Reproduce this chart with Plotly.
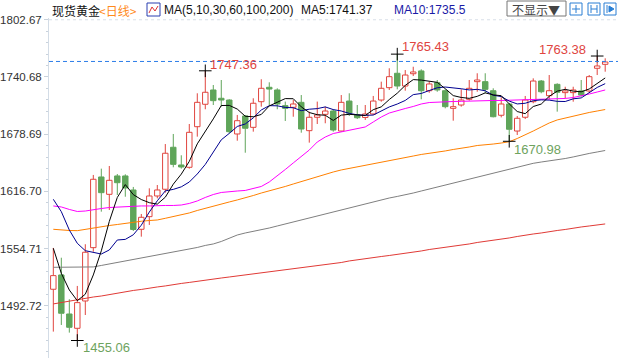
import plotly.graph_objects as go
import pandas as pd

# ---------------- data ----------------
opens = [1510.6, 1526.1, 1483.8, 1468.3, 1497.9, 1555.7, 1632.3, 1613.5, 1633.4, 1633.4,
         1618.2, 1575.6, 1589.3, 1611.7, 1619.0, 1664.5, 1645.3, 1642.8, 1686.8, 1711.1,
         1726.6, 1717.6, 1715.7, 1678.9, 1698.4, 1686.1, 1713.9, 1729.5, 1726.6, 1709.6,
         1707.8, 1713.2, 1682.5, 1697.0, 1700.2, 1703.8, 1682.1, 1714.6, 1699.5, 1696.8,
         1700.6, 1715.7, 1729.1, 1744.7, 1730.9, 1744.2, 1747.2, 1725.8, 1734.5, 1725.8,
         1706.7, 1710.3, 1716.5, 1735.6, 1735.6, 1725.8, 1699.2, 1711.4, 1682.1, 1697.0,
         1713.9, 1736.3, 1720.4, 1732.7, 1723.7, 1723.7, 1725.5, 1725.5, 1750.1, 1754.4]
highs = [1555.4, 1544.8, 1499.8, 1514.2, 1559.4, 1634.5, 1641.3, 1644.2, 1635.5, 1635.2,
         1621.5, 1592.2, 1620.0, 1623.6, 1668.0, 1678.9, 1655.8, 1689.7, 1723.0, 1747.36,
         1732.0, 1737.4, 1716.5, 1699.5, 1699.5, 1717.6, 1738.2, 1734.9, 1728.4, 1714.0,
         1715.7, 1721.1, 1703.1, 1714.0, 1708.5, 1705.7, 1721.1, 1723.0, 1710.3, 1710.3,
         1720.1, 1735.6, 1750.1, 1765.43, 1748.2, 1751.8, 1749.0, 1735.6, 1737.4, 1727.3,
         1717.6, 1727.3, 1737.4, 1744.7, 1744.7, 1728.4, 1718.7, 1712.2, 1698.4, 1720.1,
         1739.2, 1737.4, 1742.8, 1733.8, 1730.1, 1730.1, 1737.4, 1742.8, 1763.38, 1760.9]
lows = [1464.7, 1471.9, 1463.6, 1455.06, 1482.7, 1551.3, 1594.7, 1596.5, 1612.8, 1610.9,
        1573.8, 1567.6, 1580.3, 1609.2, 1615.3, 1642.8, 1641.3, 1641.3, 1676.0, 1705.7,
        1710.3, 1708.5, 1679.6, 1671.6, 1658.6, 1681.4, 1708.5, 1710.3, 1705.7, 1693.0,
        1697.6, 1680.3, 1669.5, 1689.7, 1690.5, 1681.4, 1681.4, 1698.4, 1695.1, 1694.1,
        1699.5, 1713.9, 1726.6, 1727.3, 1725.8, 1741.7, 1716.5, 1723.6, 1724.7, 1706.7,
        1693.3, 1708.5, 1715.0, 1724.7, 1723.0, 1696.9, 1696.9, 1670.98, 1677.8, 1695.1,
        1712.2, 1723.0, 1716.5, 1703.1, 1717.6, 1713.9, 1719.3, 1723.7, 1742.8, 1746.4]
closes = [1525.4, 1484.6, 1469.4, 1496.1, 1550.7, 1629.8, 1615.3, 1628.7, 1626.1, 1620.4,
          1575.4, 1588.6, 1611.7, 1618.2, 1658.0, 1646.0, 1643.1, 1680.7, 1713.2, 1724.1,
          1715.0, 1715.7, 1681.4, 1693.3, 1685.1, 1712.2, 1728.4, 1727.6, 1711.4, 1706.7,
          1711.4, 1684.3, 1697.0, 1699.5, 1703.8, 1683.2, 1713.2, 1701.3, 1696.5, 1700.6,
          1714.6, 1728.4, 1741.0, 1730.9, 1742.8, 1746.1, 1725.8, 1733.1, 1726.6, 1708.5,
          1708.5, 1715.7, 1728.4, 1737.4, 1727.3, 1697.6, 1711.4, 1684.0, 1695.9, 1715.7,
          1736.3, 1724.7, 1725.8, 1724.1, 1725.5, 1726.6, 1721.1, 1741.0, 1752.6, 1756.9]

# moving-average values before enough visible closes exist
ma5_head = [1555.0, 1527.9, 1509.8, 1498.2]
ma10_head = [1608.1, 1594.7, 1574.8, 1560.4, 1552.4, 1550.2, 1548.8, 1553.2, 1564.0]

ma30 = [1600.9, 1599.8, 1597.1, 1594.9, 1595.4, 1597.1, 1598.1, 1599.2, 1599.8, 1600.3,
        1600.9, 1600.9, 1600.9, 1601.4, 1601.4, 1601.4, 1601.9, 1603.6, 1606.3, 1610.1,
        1613.3, 1615.5, 1616.6, 1617.1, 1617.7, 1619.8, 1622.0, 1626.9, 1633.4, 1640.4,
        1647.5, 1654.0, 1661.5, 1670.2, 1675.6, 1679.4, 1681.1, 1682.7, 1684.3, 1686.5,
        1691.9, 1697.3, 1701.6, 1704.4, 1706.5, 1708.7, 1711.4, 1713.0, 1713.6, 1713.9,
        1714.1, 1714.3, 1714.6, 1715.2, 1715.2, 1715.2, 1715.2, 1715.4, 1715.7, 1715.7,
        1716.1, 1716.3, 1716.5, 1716.8, 1717.4, 1718.4, 1720.1, 1722.2, 1724.4, 1726.6]
ma60 = [1575.6, 1574.8, 1574.3, 1574.1, 1575.6, 1577.2, 1578.6, 1579.7, 1580.8, 1582.1,
        1583.5, 1584.3, 1585.1, 1585.7, 1587.5, 1589.3, 1591.1, 1593.3, 1596.0, 1598.1,
        1600.9, 1603.0, 1605.2, 1607.4, 1609.5, 1612.2, 1614.9, 1617.1, 1619.3, 1622.0,
        1624.7, 1627.4, 1630.1, 1632.8, 1635.5, 1637.7, 1639.9, 1641.5, 1643.1, 1644.7,
        1646.4, 1648.5, 1650.2, 1651.8, 1652.9, 1655.0, 1656.7, 1657.8, 1658.8, 1660.5,
        1662.1, 1663.2, 1664.8, 1666.4, 1667.0, 1668.0, 1669.1, 1670.5, 1674.0, 1677.8,
        1682.1, 1686.5, 1690.8, 1694.1, 1696.2, 1698.4, 1700.0, 1702.2, 1703.8, 1705.4]
ma100 = [1534.4, 1534.4, 1534.4, 1534.4, 1534.4, 1534.8, 1536.4, 1538.0, 1539.6, 1541.3,
         1542.9, 1544.2, 1546.1, 1547.8, 1549.6, 1551.3, 1552.6, 1553.7, 1555.9, 1558.1,
         1559.7, 1562.4, 1566.2, 1569.4, 1571.6, 1573.2, 1574.8, 1577.0, 1579.2, 1581.4,
         1583.5, 1585.7, 1587.9, 1590.0, 1592.2, 1594.4, 1596.5, 1598.7, 1600.9, 1603.0,
         1605.2, 1607.4, 1609.5, 1611.2, 1612.8, 1614.9, 1617.1, 1619.3, 1621.4, 1623.6,
         1625.8, 1628.0, 1630.1, 1632.3, 1634.5, 1636.6, 1638.8, 1641.0, 1643.1, 1645.3,
         1647.1, 1648.5, 1649.6, 1650.7, 1652.3, 1654.0, 1656.1, 1657.8, 1659.4, 1661.0]
ma200 = [1494.7, 1496.3, 1497.9, 1499.0, 1500.6, 1502.2, 1503.3, 1505.0, 1506.6, 1508.2,
         1509.3, 1510.4, 1512.0, 1513.1, 1514.2, 1515.8, 1516.9, 1518.0, 1519.0, 1520.1,
         1521.7, 1522.8, 1523.9, 1525.0, 1526.1, 1527.2, 1528.2, 1529.3, 1530.4, 1531.5,
         1533.1, 1534.2, 1535.3, 1536.4, 1537.5, 1538.5, 1539.6, 1541.3, 1542.3, 1543.4,
         1544.5, 1546.1, 1547.2, 1548.3, 1549.9, 1551.0, 1552.1, 1553.7, 1554.8, 1555.9,
         1557.5, 1558.6, 1559.7, 1561.3, 1562.4, 1564.0, 1565.1, 1566.2, 1567.8, 1569.4,
         1570.5, 1571.6, 1573.2, 1574.3, 1575.4, 1577.0, 1578.1, 1579.2, 1580.3, 1581.4]

ytick_vals = [1492.72, 1554.71, 1616.70, 1678.69, 1740.68, 1802.67]
ytick_text = ["1492.72", "1554.71", "1616.70", "1678.69", "1740.68", "1802.67"]
last_price = 1757.5
ma5_label = "MA5:1741.37"
ma10_label = "MA10:1735.5"
ma_title = "MA(5,10,30,60,100,200)"
title_name = "现货黄金"
title_period = "&lt;日线&gt;"

# extremes: (candle index, which, label)
extremes = [(19, "high", "1747.36"), (43, "high", "1765.43"), (68, "high", "1763.38"),
            (3, "low", "1455.06"), (57, "low", "1670.98")]

# ---------------- layout helpers ----------------
W, H = 618, 358
ML, MT = 49, 18
PW, PH = W - ML, H - MT


def pxx(x):
    return (x - ML) / PW


def pxy(y):
    return (H - y) / PH


RED = "#e0453f"
GREEN = "#5fa55a"
n = len(closes)
xs = list(range(n))

s = pd.Series(closes)
ma5 = s.rolling(5).mean().tolist()
ma10 = s.rolling(10).mean().tolist()
ma5[:len(ma5_head)] = ma5_head
ma10[:len(ma10_head)] = ma10_head

fig = go.Figure()

# wicks (upper and lower parts, so hollow bodies stay clean)
for up, col in [(True, RED), (False, GREEN)]:
    wx, wy = [], []
    for i in xs:
        if (closes[i] >= opens[i]) != up:
            continue
        top, bot = max(opens[i], closes[i]), min(opens[i], closes[i])
        wx += [i, i, None, i, i, None]
        wy += [highs[i], top, None, bot, lows[i], None]
    fig.add_trace(go.Scatter(x=wx, y=wy, mode="lines", line=dict(color=col, width=1),
                             showlegend=False, hoverinfo="skip"))

# bodies
for up, col, fill in [(True, RED, "white"), (False, GREEN, GREEN)]:
    bx = [i for i in xs if (closes[i] >= opens[i]) == up]
    base = [min(opens[i], closes[i]) for i in bx]
    hgt = [max(abs(closes[i] - opens[i]), 0.4) for i in bx]
    fig.add_trace(go.Bar(x=bx, y=hgt, base=base, width=0.68,
                         marker=dict(color=fill, line=dict(color=col, width=1)),
                         showlegend=False, hoverinfo="skip"))

for vals, col in [(ma200, "#e03a36"), (ma100, "#7f7f7f"), (ma60, "#ff8000"),
                  (ma30, "#ff00ff"), (ma10, "#000090"), (ma5, "#000000")]:
    fig.add_trace(go.Scatter(x=xs, y=vals, mode="lines", line=dict(color=col, width=1),
                             showlegend=False, hoverinfo="skip"))

# extreme markers
ex_x = [e[0] for e in extremes]
ex_y = [highs[i] if w == "high" else lows[i] for i, w, _ in extremes]
fig.add_trace(go.Scatter(x=ex_x, y=ex_y, mode="markers",
                         marker=dict(symbol="cross-thin", size=9, line=dict(color="black", width=1)),
                         showlegend=False, hoverinfo="skip"))

annotations = []
label_style = {
    "1747.36": dict(xanchor="left", xshift=3, yshift=6),
    "1765.43": dict(xanchor="left", xshift=3, yshift=8),
    "1763.38": dict(xanchor="right", xshift=-9, yshift=7),
    "1455.06": dict(xanchor="left", xshift=4, yshift=-7),
    "1670.98": dict(xanchor="left", xshift=3, yshift=-8),
}
for (i, w, lab), yv in zip(extremes, ex_y):
    st = label_style[lab]
    annotations.append(dict(x=i, y=yv, xref="x", yref="y", text=lab, showarrow=False,
                            xanchor=st["xanchor"], yanchor="middle", xshift=st["xshift"],
                            yshift=st["yshift"],
                            font=dict(family="Liberation Sans, Arial", size=13,
                                      color=RED if w == "high" else "#6ea35e")))

# header texts
hy = pxy(10)
head = [(50, title_name, "#111111", "Noto Sans CJK SC"),
        (97, title_period, "#ff8a1c", "Noto Sans CJK SC"),
        (162, ma_title, "#111111", "Liberation Sans"),
        (299, ma5_label, "#111111", "Liberation Sans"),
        (392, ma10_label, "#1a1aa6", "Liberation Sans")]
for x0, txt, col, fam in head:
    annotations.append(dict(x=pxx(x0), y=hy, xref="paper", yref="paper", text=txt,
                            showarrow=False, xanchor="left", yanchor="middle",
                            font=dict(family=fam, size=12, color=col)))
annotations.append(dict(x=pxx(536), y=pxy(9), xref="paper", yref="paper", text="不显示▼",
                        showarrow=False, xanchor="center", yanchor="middle",
                        font=dict(family="Noto Sans CJK SC", size=12, color="#444444")))

shapes = []
# top dashed grid line and last-price line
shapes.append(dict(type="line", xref="paper", yref="y", x0=0, x1=1, y0=ytick_vals[-1],
                   y1=ytick_vals[-1], line=dict(color="#d8dfe8", width=1, dash="3px,3px")))
shapes.append(dict(type="line", xref="paper", yref="y", x0=0, x1=1, y0=last_price,
                   y1=last_price, line=dict(color="#2b7de9", width=1, dash="4px,3px")))
# MA icon
shapes.append(dict(type="rect", xref="paper", yref="paper", x0=pxx(147), x1=pxx(160),
                   y0=pxy(16), y1=pxy(3), line=dict(color="#2a3fb0", width=1), fillcolor="white"))
shapes.append(dict(type="path", xref="paper", yref="paper",
                   path="M %f %f L %f %f L %f %f L %f %f" % (pxx(149), pxy(13), pxx(152), pxy(7),
                                                               pxx(155), pxy(11), pxx(158), pxy(6)),
                   line=dict(color="#e03030", width=1)))
# right-hand buttons
shapes.append(dict(type="rect", xref="paper", yref="paper", x0=pxx(507), x1=pxx(566),
                   y0=pxy(16), y1=pxy(1), line=dict(color="#777777", width=1)))
for bx0 in (570, 588, 604):
    shapes.append(dict(type="rect", xref="paper", yref="paper", x0=pxx(bx0), x1=pxx(bx0 + 12),
                       y0=pxy(15), y1=pxy(3), line=dict(color="#2a7fd4", width=1)))
# icon glyphs
shapes.append(dict(type="line", xref="paper", yref="paper", x0=pxx(576), x1=pxx(576),
                   y0=pxy(13), y1=pxy(5), line=dict(color="#2a7fd4", width=1)))
shapes.append(dict(type="line", xref="paper", yref="paper", x0=pxx(572), x1=pxx(580),
                   y0=pxy(9), y1=pxy(9), line=dict(color="#2a7fd4", width=1)))
for lx in (591, 597):
    shapes.append(dict(type="line", xref="paper", yref="paper", x0=pxx(lx), x1=pxx(lx),
                       y0=pxy(13), y1=pxy(5), line=dict(color="#2a7fd4", width=1)))
shapes.append(dict(type="line", xref="paper", yref="paper", x0=pxx(591), x1=pxx(597),
                   y0=pxy(9), y1=pxy(9), line=dict(color="#2a7fd4", width=1)))
shapes.append(dict(type="line", xref="paper", yref="paper", x0=pxx(607), x1=pxx(607),
                   y0=pxy(13), y1=pxy(5), line=dict(color="#2a7fd4", width=1)))
shapes.append(dict(type="path", xref="paper", yref="paper",
                   path="M %f %f L %f %f L %f %f Z" % (pxx(609), pxy(12), pxx(609), pxy(6),
                                                       pxx(614), pxy(9)),
                   line=dict(color="#2a7fd4", width=1), fillcolor="#2a7fd4"))

fig.update_layout(
    width=W, height=H, margin=dict(l=ML, r=0, t=MT, b=0, pad=0),
    paper_bgcolor="white", plot_bgcolor="white", barmode="overlay",
    showlegend=False, annotations=annotations, shapes=shapes,
    xaxis=dict(range=[-0.54, 70.6], visible=False, automargin=False, fixedrange=True),
    yaxis=dict(range=[1436.1, 1804.6], tickmode="array", tickvals=ytick_vals,
               ticktext=ytick_text, showgrid=False, zeroline=False, automargin=False,
               showline=True, linecolor="#d3dce6", linewidth=1,
               ticks="outside", ticklen=4, tickcolor="#c9d2dc",
               tickfont=dict(family="Liberation Sans, Arial", size=11.5, color="#333333"),
               minor=dict(tickmode="linear", tick0=1492.72, dtick=12.398, ticks="outside",
                          ticklen=2, tickcolor="#c9d2dc"),
               fixedrange=True),
)

fig.write_html("out.html", config={"displayModeBar": False},
               post_script="document.body.style.margin='0px';document.body.style.overflow='hidden';")
